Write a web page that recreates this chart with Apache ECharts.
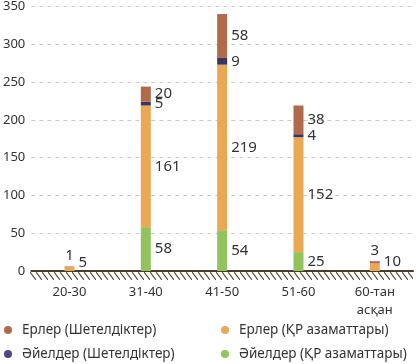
<!DOCTYPE html>
<html><head><meta charset="utf-8">
<script src="https://cdn.jsdelivr.net/npm/echarts@6/dist/echarts.min.js"></script>
<style>html,body{margin:0;padding:0;background:#fff}#c{width:417px;height:364px}</style>
</head><body><div id="c"></div>
<script>
var categories = ['20-30', '31-40', '41-50', '51-60', '60-тан\nасқан'];
var womenLocal = [0, 58, 54, 25, 0];      // Әйелдер (ҚР азаматтары)
var menLocal = [5, 161, 219, 152, 10];    // Ерлер (ҚР азаматтары)
var womenForeign = [0, 5, 9, 4, 0];       // Әйелдер (Шетелдіктер)
var menForeign = [1, 20, 58, 38, 3];      // Ерлер (Шетелдіктер)
var yTicks = [0, 50, 100, 150, 200, 250, 300, 350];

var FONT = 'Noto Sans';
var TXT = '#333';
var GL = 30, GR = 4;

function lbl(v) { return v === 0 ? '' : String(v); }

function mkData(arr, opts) {
  return arr.map(function (v, i) {
    var o = { value: v };
    if (opts && opts[i]) o.label = opts[i];
    return o;
  });
}

var baseLabel = { show: true, position: 'right', distance: 4, color: TXT, fontSize: 15, fontFamily: FONT,
  formatter: function (p) { return lbl(p.value); } };

var chart = echarts.init(document.getElementById('c'), null, { renderer: 'canvas' });

var legendCommon = { orient: 'vertical', itemGap: 6, itemWidth: 8, itemHeight: 8, icon: 'circle',
  top: 321, height: 60, padding: 0,
  textStyle: { color: TXT, fontSize: 13.5, fontFamily: FONT, lineHeight: 18, padding: [0, 0, 0, 5] } };

var option = {
  animation: false,
  textStyle: { fontFamily: FONT },
  grid: { left: GL, right: GR, top: 5, bottom: 93, containLabel: false },
  xAxis: {
    type: 'category', data: categories,
    axisLine: { show: true, lineStyle: { color: '#4a3b2f', width: 2 } },
    axisTick: { show: false },
    axisLabel: { color: TXT, fontSize: 13, fontFamily: FONT, margin: 12, lineHeight: 18, interval: 0 }
  },
  yAxis: {
    type: 'value', min: 0, max: yTicks[yTicks.length - 1], interval: 50,
    axisLine: { show: false }, axisTick: { show: false },
    axisLabel: { color: TXT, fontSize: 13, fontFamily: FONT, margin: 6 },
    splitLine: { show: true, lineStyle: { color: '#c8c8c8', type: [4, 4], width: 1 } }
  },
  legend: [
    Object.assign({}, legendCommon, { left: 4, data: ['Ерлер (Шетелдіктер)',
      { name: 'Әйелдер (Шетелдіктер)', itemStyle: { color: '#4d4687' } }] }),
    Object.assign({}, legendCommon, { left: 221, data: ['Ерлер (ҚР азаматтары)', 'Әйелдер (ҚР азаматтары)'] })
  ],
  series: [
    { name: 'Әйелдер (ҚР азаматтары)', type: 'bar', stack: 't', barWidth: 10,
      itemStyle: { color: '#92c35c' }, label: baseLabel, data: mkData(womenLocal) },
    { name: 'Ерлер (ҚР азаматтары)', type: 'bar', stack: 't', barWidth: 10,
      itemStyle: { color: '#eba853' }, label: baseLabel,
      data: mkData(menLocal, { 0: { offset: [0, -6] }, 4: { offset: [0, -5] } }) },
    { name: 'Әйелдер (Шетелдіктер)', type: 'bar', stack: 't', barWidth: 10,
      itemStyle: { color: '#38365f' }, label: baseLabel, data: mkData(womenForeign) },
    { name: 'Ерлер (Шетелдіктер)', type: 'bar', stack: 't', barWidth: 10,
      itemStyle: { color: '#b0694a' }, label: baseLabel,
      data: mkData(menForeign, { 0: { position: 'top', distance: 3 }, 4: { position: 'top', distance: 3 } }) }
  ]
};
chart.setOption(option);

// hatched ground strip below the zero line
var pc = document.createElement('canvas');
pc.width = 6; pc.height = 8;
var g = pc.getContext('2d');
g.strokeStyle = '#5a4838'; g.lineWidth = 1.1;
g.beginPath(); g.moveTo(-6, -8); g.lineTo(12, 16); g.stroke();
var y0 = chart.convertToPixel({ yAxisIndex: 0 }, 0);
chart.setOption({
  graphic: [{
    type: 'rect', z: 1, silent: true,
    shape: { x: GL, y: y0 + 1, width: 417 - GL - GR, height: 8 },
    style: { fill: { image: pc, repeat: 'repeat' } }
  }]
});
</script></body></html>
